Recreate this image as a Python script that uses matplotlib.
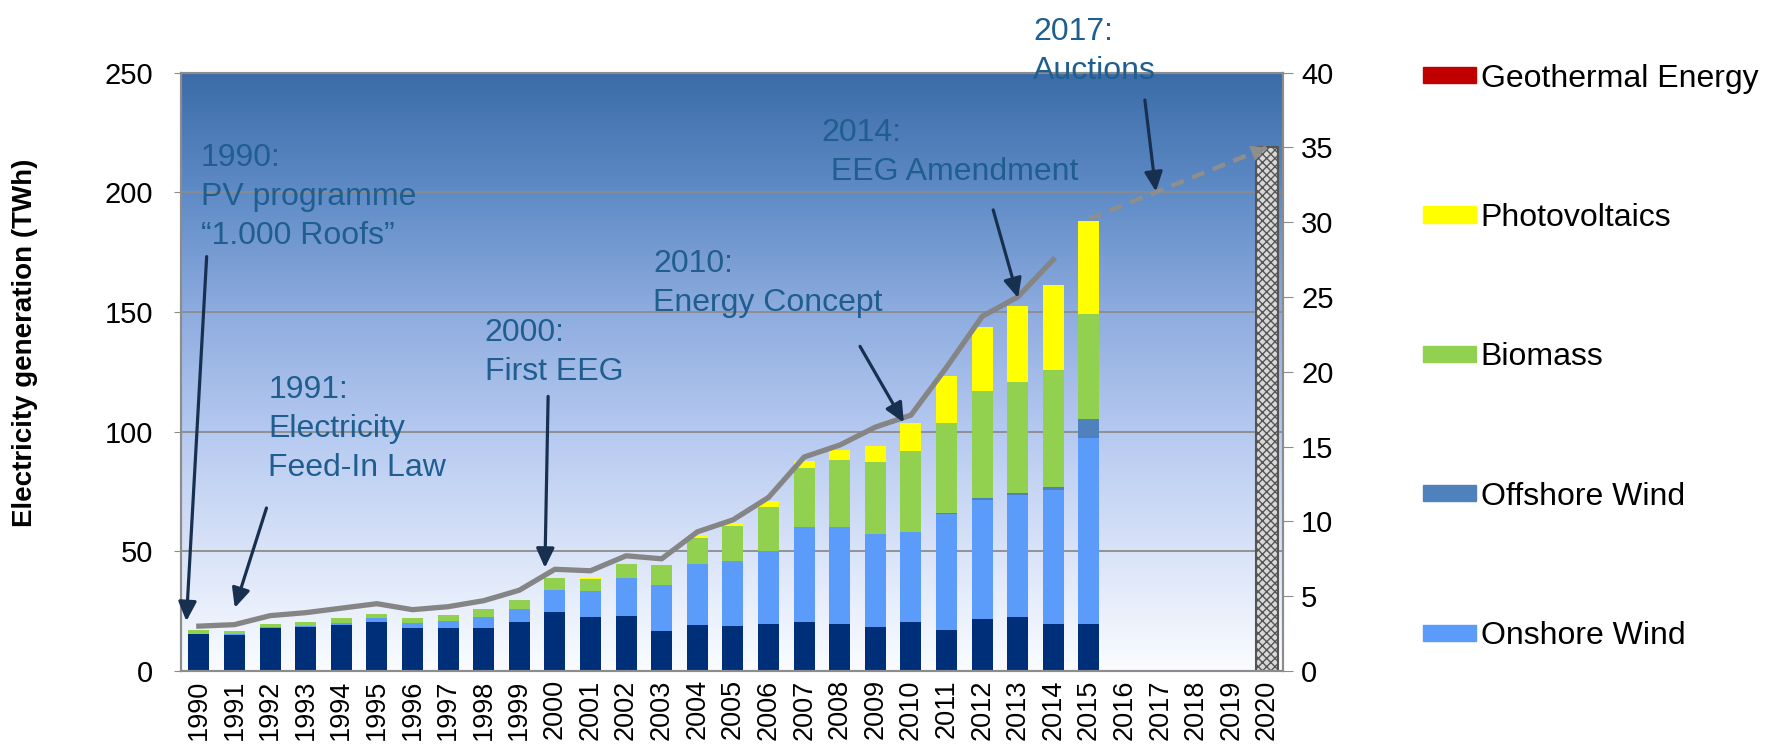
"""
Renewable electricity generation in Germany 1990-2015, with policy milestones
and the 2020 target share.
"""
import matplotlib
matplotlib.use("Agg")
import matplotlib.pyplot as plt
import numpy as np
from matplotlib.colors import LinearSegmentedColormap
from matplotlib.patches import Patch

plt.rcParams["font.family"] = ["Liberation Sans", "DejaVu Sans"]

# --- data (TWh), 1990..2015 ---
years = [str(y) for y in range(1990, 2021)]
hydro = [15.4, 15.2, 17.9, 18.2, 19.2, 20.3, 17.9, 17.9, 17.9, 20.3, 24.8, 22.6, 22.8,
         16.9, 19.3, 19.0, 19.6, 20.4, 19.7, 18.3, 20.3, 17.3, 21.6, 22.7, 19.6, 19.5]
onshore = [0.1, 0.2, 0.3, 0.6, 0.9, 1.7, 2.1, 3.1, 4.8, 5.6, 9.2, 10.8, 16.1, 18.9,
           25.5, 26.9, 30.5, 39.9, 40.6, 38.8, 37.7, 48.1, 49.8, 50.7, 56.2, 77.8]
offshore = [0.0] * 19 + [0.04, 0.2, 0.6, 0.7, 0.9, 1.0, 7.8]
biomass = [1.6, 1.5, 1.4, 1.5, 1.9, 1.8, 2.1, 2.4, 3.2, 3.8, 4.9, 5.2, 6.0, 8.3,
           10.6, 14.5, 18.6, 24.3, 27.7, 30.3, 33.6, 37.7, 44.9, 46.6, 48.8, 44.1]
pv = [0.0, 0.0, 0.0, 0.0, 0.0, 0.0, 0.0, 0.0, 0.0, 0.0, 0.06, 0.1, 0.2, 0.3,
      0.8, 1.5, 2.3, 3.0, 4.4, 6.7, 11.9, 19.7, 26.5, 31.4, 35.6, 38.8]
geothermal = [0.0] * 18 + [0.02, 0.02, 0.03, 0.02, 0.03, 0.08, 0.1, 0.13]

# share of renewables (%), right axis, 1990..2014
share = [3.0, 3.1, 3.7, 3.9, 4.2, 4.5, 4.1, 4.3, 4.7, 5.4, 6.8, 6.7, 7.7, 7.5,
         9.3, 10.1, 11.6, 14.3, 15.1, 16.3, 17.1, 20.3, 23.7, 25.0, 27.5]
# target path 2015 -> 2020 (%)
target_idx = [25, 30]
target_share = [30.2, 35.0]

# colours
C_HYDRO = "#002F79"
C_ONSHORE = "#5B9BFA"
C_OFFSHORE = "#4F81BD"
C_BIOMASS = "#92D050"
C_PV = "#FFFF00"
C_GEO = "#C00000"
C_TEXT = "#1F5E8E"
C_ARROW = "#18304F"
C_GRID = "#8C8C8C"

fig = plt.figure(figsize=(17.8, 7.56), dpi=100)
ax = fig.add_axes([0.1017, 0.1124, 0.6191, 0.7917])
ax2 = ax.twinx()

# fondo degradado azul -> blanco
cmap = LinearSegmentedColormap.from_list("bg", [
    (0.0, "#FAFCFF"), (0.2, "#D9E3F8"), (0.4, "#B5C9F0"),
    (0.6, "#8EACDF"), (0.8, "#5F8BC6"), (1.0, "#3B6CA8")])
grad = np.linspace(0, 1, 256).reshape(-1, 1)
ax.imshow(grad, origin="lower", aspect="auto", cmap=cmap, extent=(0, 1, 0, 1),
          transform=ax.transAxes, zorder=0)

x = np.arange(len(hydro))
width = 0.59
bottom = np.zeros(len(hydro))
for vals, col in ((hydro, C_HYDRO), (onshore, C_ONSHORE), (offshore, C_OFFSHORE),
                  (biomass, C_BIOMASS), (pv, C_PV), (geothermal, C_GEO)):
    ax.bar(x, vals, width, bottom=bottom, color=col, zorder=2)
    bottom += np.array(vals)

ax.set_xlim(-0.5, 30.45)
ax.set_ylim(0, 250)
ax.set_yticks(range(0, 251, 50))
ax.set_xticks(range(len(years)))
ax.set_xticklabels(years, rotation=90, fontsize=19.5)
ax.tick_params(axis="x", length=0, pad=6)
ax.tick_params(axis="y", labelsize=21, length=5, color=C_GRID, pad=15)
ax.grid(axis="y", color=C_GRID, lw=1.3)
ax.set_axisbelow(True)
for sp in ax.spines.values():
    sp.set_color(C_GRID)
    sp.set_linewidth(1.5)

# eje derecho: cuota (%)
ax2.set_ylim(0, 40)
ax2.set_yticks(range(0, 41, 5))
ax2.tick_params(axis="y", labelsize=21, length=7, color=C_GRID, pad=6)
for sp in ax2.spines.values():
    sp.set_color(C_GRID)
    sp.set_linewidth(1.5)

# barra objetivo 2020
ax2.bar(target_idx[-1], target_share[-1], width, facecolor="#D8D8D8",
        edgecolor="#555555", hatch="xxxx", lw=1.5, zorder=2)

ax2.plot(np.arange(len(share)), share, color="#858585", lw=3.8, zorder=3)
ax2.plot(target_idx, target_share, color="#8E8E8E", lw=3.2, ls=(0, (3, 2)), zorder=3)
slope = (target_share[1] - target_share[0]) / (target_idx[1] - target_idx[0])
ax2.annotate("", xy=(target_idx[-1], target_share[-1]),
             xytext=(target_idx[-1] - 0.4, target_share[-1] - 0.4 * slope),
             arrowprops=dict(arrowstyle="-|>,head_length=0.9,head_width=0.45",
                             color="#8E8E8E", lw=0.5, mutation_scale=12,
                             shrinkA=0, shrinkB=0), zorder=4)

# hitos de politica energetica (coordenadas en indice de anyo / TWh)
hitos = [
    ("1990:\nPV programme\n\u201c1.000 Roofs\u201d", (0.05, 220.4), (0.22, 173.1), (-0.35, 20.8)),
    ("1991:\nElectricity\nFeed-In Law", (1.95, 123.7), (1.90, 68.1), (1.01, 26.4)),
    ("2000:\nFirst EEG", (8.03, 147.4), (9.81, 114.7), (9.72, 43.1)),
    ("2010:\nEnergy Concept", (12.76, 176.3), (18.57, 135.6), (19.80, 103.8)),
    ("2014:\n EEG Amendment", (17.49, 230.9), (22.31, 192.6), (23.01, 155.8)),
    ("2017:\nAuctions", (23.44, 273.3), (26.57, 238.5), (26.88, 200.3)),
]
for texto, pos, ini, fin in hitos:
    ax2.text(pos[0], pos[1], texto, transform=ax.transData, ha="left", va="top",
             fontsize=23, linespacing=1.39, color=C_TEXT, clip_on=False, zorder=5)
    ax2.annotate("", xy=fin, xytext=ini, xycoords=ax.transData,
                 textcoords=ax.transData,
                 arrowprops=dict(arrowstyle="-|>,head_length=0.9,head_width=0.42",
                                 color=C_ARROW, lw=2.3, mutation_scale=13,
                                 shrinkA=0, shrinkB=0), zorder=5)

fig.text(25 / 1780, 0.546, "Electricity generation (TWh)", rotation=90,
         ha="center", va="center", fontsize=20, fontweight="bold")

handles = [Patch(color=C_GEO), Patch(color=C_PV), Patch(color=C_BIOMASS),
           Patch(color=C_OFFSHORE), Patch(color=C_ONSHORE)]
labels = ["Geothermal Energy", "Photovoltaics", "Biomass", "Offshore Wind", "Onshore Wind"]
fig.legend(handles, labels, loc="upper left", bbox_to_anchor=(1423 / 1780, 0.916),
           frameon=False, fontsize=23, handlelength=1.66, handleheight=0.4,
           handletextpad=0.15, labelspacing=3.425, borderpad=0, borderaxespad=0)

fig.savefig("out.png", dpi=100)
